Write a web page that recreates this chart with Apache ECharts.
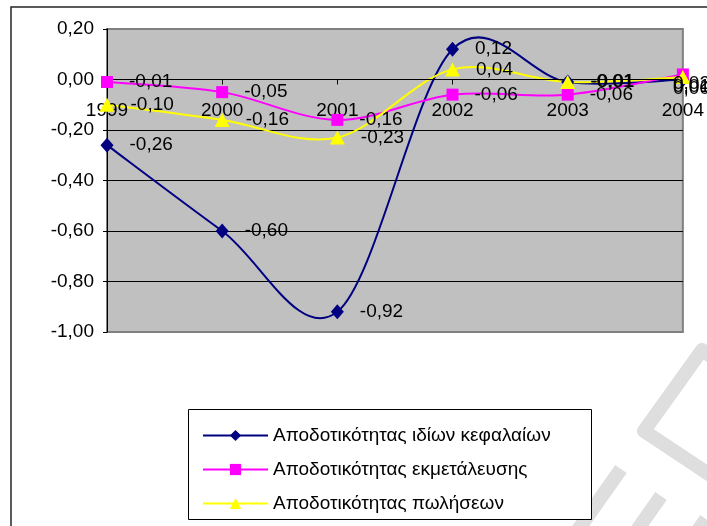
<!DOCTYPE html>
<html>
<head>
<meta charset="utf-8">
<script src="https://cdn.jsdelivr.net/npm/echarts@6/dist/echarts.min.js"></script>
<style>
  html, body { margin: 0; padding: 0; background: #ffffff; }
  #chart { width: 707px; height: 526px; }
</style>
</head>
<body>
<div id="chart"></div>
<script>
// Years on the category axis
const years = ['1999', '2000', '2001', '2002', '2003', '2004'];

// Return ratios per year
const equityReturn    = [-0.26, -0.60, -0.92, 0.12, -0.01, 0.00];
const operatingReturn = [-0.01, -0.05, -0.16, -0.06, -0.06, 0.02];
const salesReturn     = [-0.10, -0.16, -0.23, 0.04, -0.01, 0.01];

const seriesNames = [
  'Αποδοτικότητας ιδίων κεφαλαίων',
  'Αποδοτικότητας εκμετάλευσης',
  'Αποδοτικότητας πωλήσεων'
];
const seriesColors = ['#000080', '#ff00ff', '#ffff00'];

// Value axis range and step
const yMin = -1.0;
const yMax = 0.2;
const yStep = 0.2;

const FONT = "'Liberation Sans', Arial, sans-serif";

// Plot area placement
const GRID_TOP = 29;
const GRID_BOTTOM = 194;
const GRID_HEIGHT = 526 - GRID_TOP - GRID_BOTTOM;
// Category axis sits on the zero line of the value axis
const xAxisOffset = -((0 - yMin) / (yMax - yMin)) * GRID_HEIGHT;

// Right edge that data labels are kept inside of
const LABEL_RIGHT_LIMIT = 710;

// Two decimals with a comma as the decimal separator
function fmt(v) {
  const r = Math.abs(v) < 1e-9 ? 0 : v;
  return r.toFixed(2).replace('.', ',');
}

// Smooth curve through the points: one cubic Bezier per segment,
// control points taken from the neighbouring points (Catmull-Rom style).
function curveSeries(values, color) {
  const n = values.length;
  const clampIdx = k => Math.max(0, Math.min(n - 1, k));
  return {
    type: 'custom',
    data: values.map((v, i) => [i, v]),
    encode: { x: 0, y: 1 },
    silent: true,
    clip: false,
    renderItem: function (params, api) {
      const i = params.dataIndex;
      if (i >= n - 1) return null;
      const pt = k => api.coord([clampIdx(k), values[clampIdx(k)]]);
      const p0 = pt(i - 1), p1 = pt(i), p2 = pt(i + 1), p3 = pt(i + 2);
      const t = 1 / 6;
      return {
        type: 'bezierCurve',
        shape: {
          x1: p1[0], y1: p1[1],
          x2: p2[0], y2: p2[1],
          cpx1: p1[0] + (p2[0] - p0[0]) * t,
          cpy1: p1[1] + (p2[1] - p0[1]) * t,
          cpx2: p2[0] - (p3[0] - p1[0]) * t,
          cpy2: p2[1] - (p3[1] - p1[1]) * t
        },
        style: { stroke: color, lineWidth: 2, fill: 'none' }
      };
    },
    animation: false
  };
}

// Markers and value labels of one series
function markerSeries(name, data, color, symbol, symbolSize) {
  return {
    type: 'line',
    name: name,
    data: data,
    clip: false,
    symbol: symbol,
    symbolSize: symbolSize,
    lineStyle: { color: color, width: 2, opacity: 0 },
    itemStyle: { color: color },
    label: {
      show: true,
      position: 'right',
      distance: 16,
      color: '#000',
      fontSize: 19,
      fontFamily: FONT,
      formatter: p => fmt(p.value)
    },
    labelLayout: function (params) {
      const r = params.labelRect;
      if (r.x + r.width > LABEL_RIGHT_LIMIT) {
        return { x: LABEL_RIGHT_LIMIT - r.width };
      }
      return {};
    },
    emphasis: { disabled: true },
    animation: false
  };
}

const chart = echarts.init(document.getElementById('chart'), null, { renderer: 'canvas' });

chart.setOption({
  animation: false,
  textStyle: { fontFamily: FONT },
  graphic: [
    // light background mark in the lower right corner
    {
      type: 'polyline', z: 0, silent: true,
      shape: { points: [[790, 528], [644, 431], [702, 350], [790, 410]] },
      style: { stroke: '#dedede', lineWidth: 14, fill: null, lineJoin: 'round', lineCap: 'butt' }
    },
    {
      type: 'line', z: 0, silent: true,
      shape: { x1: 621, y1: 469, x2: 561, y2: 554 },
      style: { stroke: '#dedede', lineWidth: 14, lineCap: 'butt' }
    },
    {
      type: 'line', z: 0, silent: true,
      shape: { x1: 661, y1: 496, x2: 616, y2: 560 },
      style: { stroke: '#dedede', lineWidth: 14, lineCap: 'butt' }
    },
    {
      type: 'line', z: 0, silent: true,
      shape: { x1: 706, y1: 519, x2: 680, y2: 556 },
      style: { stroke: '#dedede', lineWidth: 14, lineCap: 'butt' }
    },
    // chart area frame
    {
      type: 'rect', z: 1, silent: true,
      shape: { x: 11, y: 7, width: 900, height: 900 },
      style: { fill: null, stroke: '#262626', lineWidth: 1.5 }
    },
    // legend box
    {
      type: 'rect', z: 1, silent: true,
      shape: { x: 188.5, y: 409.5, width: 403, height: 110 },
      style: { fill: '#ffffff', stroke: '#000000', lineWidth: 1 }
    }
  ],
  grid: {
    left: 107,
    top: GRID_TOP,
    right: 24,
    bottom: GRID_BOTTOM,
    show: true,
    backgroundColor: '#c0c0c0',
    borderColor: '#808080',
    borderWidth: 2
  },
  legend: {
    orient: 'vertical',
    left: 197,
    top: 421,
    itemWidth: 65,
    itemHeight: 14,
    itemGap: 15,
    selectedMode: false,
    textStyle: { fontSize: 19, color: '#000', fontFamily: FONT, lineHeight: 19 },
    data: seriesNames.map((name, i) => ({
      name: name,
      lineStyle: { color: seriesColors[i], width: 2, opacity: 1 }
    }))
  },
  xAxis: {
    type: 'category',
    data: years,
    boundaryGap: false,
    offset: xAxisOffset,
    z: 3,
    axisLine: { onZero: false, lineStyle: { color: '#000', width: 1 } },
    axisTick: { show: true, length: 5, lineStyle: { color: '#000' } },
    axisLabel: { margin: 22, fontSize: 19, color: '#000', fontFamily: FONT },
    splitLine: { show: false }
  },
  yAxis: {
    type: 'value',
    min: yMin,
    max: yMax,
    interval: yStep,
    axisLine: { show: true, lineStyle: { color: '#000', width: 1 } },
    axisTick: { show: true, length: 4, lineStyle: { color: '#000' } },
    axisLabel: { margin: 13, fontSize: 19, color: '#000', fontFamily: FONT, formatter: fmt },
    splitLine: { show: true, showMinLine: false, showMaxLine: false, lineStyle: { color: '#000', width: 1 } }
  },
  series: [
    curveSeries(equityReturn, seriesColors[0]),
    markerSeries(seriesNames[0], equityReturn, seriesColors[0], 'diamond', [13, 15]),
    curveSeries(operatingReturn, seriesColors[1]),
    markerSeries(seriesNames[1], operatingReturn, seriesColors[1], 'rect', 12),
    curveSeries(salesReturn, seriesColors[2]),
    markerSeries(seriesNames[2], salesReturn, seriesColors[2], 'triangle', [15, 14])
  ]
});
</script>
</body>
</html>
